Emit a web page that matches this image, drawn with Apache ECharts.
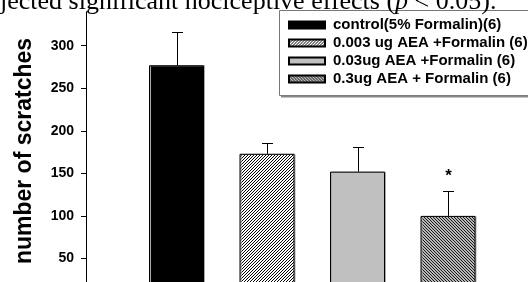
<!DOCTYPE html>
<html>
<head>
<meta charset="utf-8">
<script src="https://cdn.jsdelivr.net/npm/echarts@6/dist/echarts.min.js"></script>
<style>
  html, body { margin: 0; padding: 0; background: #fff; }
  #chart1 { width: 528px; height: 282px; }
</style>
</head>
<body>
<div id="chart1"></div>
<script>
// data
var groups = ['', 'control', '0.003ug', '0.03ug', '0.3ug', ''];
var legendNames = [
  'control(5% Formalin)(6)',
  '0.003 ug AEA +Formalin (6)',
  '0.03ug AEA +Formalin (6)',
  '0.3ug AEA + Formalin (6)'
];
var means = [277, 173, 152, 100];
var errTop = [316, 186, 181, 129];
var sigMarks = ['', '', '', '*'];
var yTicks = [0, 50, 100, 150, 200, 250, 300];

function hatch(bg, fg, dir) {
  var c = document.createElement('canvas');
  c.width = 6; c.height = 6;
  var ctx = c.getContext('2d');
  ctx.fillStyle = bg;
  ctx.fillRect(0, 0, 6, 6);
  ctx.fillStyle = fg;
  for (var y = 0; y < 6; y++) {
    for (var x = 0; x < 6; x++) {
      var k = dir > 0 ? x + y : x - y + 6;
      if (k % 3 === 0) ctx.fillRect(x, y, 1, 1);
    }
  }
  return { image: c, repeat: 'repeat' };
}

var fills = [
  '#000000',
  hatch('#ffffff', '#000000', 1),
  '#c0c0c0',
  hatch('#b8b8b8', '#1a1a1a', -1)
];

function createChart() {
  var dom = document.getElementById('chart1');
  var myChart = echarts.init(dom, null, { renderer: 'canvas' });

  var barSeries = legendNames.map(function (name, i) {
    var d = groups.map(function () { return '-'; });
    d[i + 1] = means[i];
    return {
      name: name,
      type: 'bar',
      data: d,
      barWidth: 55,
      barGap: '-100%',
      itemStyle: {
        color: fills[i],
        borderColor: '#000',
        borderWidth: 1,
        shadowColor: '#aaa',
        shadowOffsetX: 1,
        shadowBlur: 0
      }
    };
  });

  var errData = means.map(function (m, i) { return [i + 1, m, errTop[i]]; });

  var option = {
    animation: false,
    textStyle: { fontFamily: 'Liberation Sans, Arial, sans-serif' },
    grid: { left: 86, top: 11.7, right: -10.5, bottom: -19, outerBoundsMode: 'none', containLabel: false },
    xAxis: {
      type: 'category',
      data: groups,
      boundaryGap: false,
      show: false
    },
    yAxis: {
      type: 'value',
      min: 0,
      max: 340,
      axisLine: { show: true, lineStyle: { color: '#000', width: 1 } },
      axisTick: { show: true, length: 5, customValues: yTicks, lineStyle: { color: '#000' } },
      axisLabel: {
        customValues: yTicks,
        color: '#000',
        fontWeight: 'bold',
        fontSize: 14,
        margin: 12
      },
      splitLine: { show: false }
    },
    legend: {
      data: legendNames,
      orient: 'vertical',
      left: 288,
      top: 17,
      padding: 0,
      itemWidth: 36,
      itemHeight: 7,
      itemGap: 2,
      icon: 'rect',
      selectedMode: false,
      textStyle: {
        color: '#000',
        fontWeight: 'bold',
        fontSize: 15,
        lineHeight: 16,
        padding: [0, 0, 0, 3],
        fontFamily: 'Liberation Sans, Arial, sans-serif'
      }
    },
    graphic: [
      {
        type: 'text',
        x: 25,
        y: 151,
        rotation: Math.PI / 2,
        style: {
          text: 'number of scratches',
          fill: '#000',
          font: 'bold 23px "Liberation Sans", Arial, sans-serif',
          align: 'center',
          verticalAlign: 'middle'
        }
      },
      {
        type: 'text',
        x: 0,
        y: 2,
        style: {
          text: '{a|jected significant nociceptive effects (}{i|p}{a| < 0.05).}',
          verticalAlign: 'middle',
          rich: {
            a: { font: '26px "Liberation Serif", "Times New Roman", serif', fill: '#000' },
            i: { font: 'italic 26px "Liberation Serif", "Times New Roman", serif', fill: '#000' }
          }
        }
      },
      {
        type: 'rect',
        z: -1,
        shape: { x: 279.5, y: 10.5, width: 260, height: 85 },
        style: { fill: '#fff', stroke: '#777', lineWidth: 1 }
      },
      {
        type: 'rect',
        z: -1,
        shape: { x: 281, y: 95.5, width: 260, height: 2 },
        style: { fill: '#888' }
      }
    ],
    series: barSeries.concat([
      {
        type: 'custom',
        name: 'err',
        data: errData,
        z: 5,
        renderItem: function (params, api) {
          var base = api.coord([api.value(0), api.value(1)]);
          var top = api.coord([api.value(0), api.value(2)]);
          var x = Math.round(base[0]) + 0.5;
          var ty = Math.round(top[1]) + 0.5;
          var children = [
            { type: 'line', shape: { x1: x, y1: base[1], x2: x, y2: ty }, style: { stroke: '#000', lineWidth: 1 } },
            { type: 'line', shape: { x1: x - 5.5, y1: ty, x2: x + 5.5, y2: ty }, style: { stroke: '#000', lineWidth: 1 } }
          ];
          var mark = sigMarks[params.dataIndex];
          if (mark) {
            children.push({
              type: 'text',
              x: x,
              y: top[1] - 15,
              style: { text: mark, fill: '#000', font: 'bold 17px "Liberation Sans", Arial, sans-serif', align: 'center', verticalAlign: 'middle' }
            });
          }
          return { type: 'group', children: children };
        }
      }
    ])
  };

  myChart.setOption(option);
}
createChart();
</script>
</body>
</html>
